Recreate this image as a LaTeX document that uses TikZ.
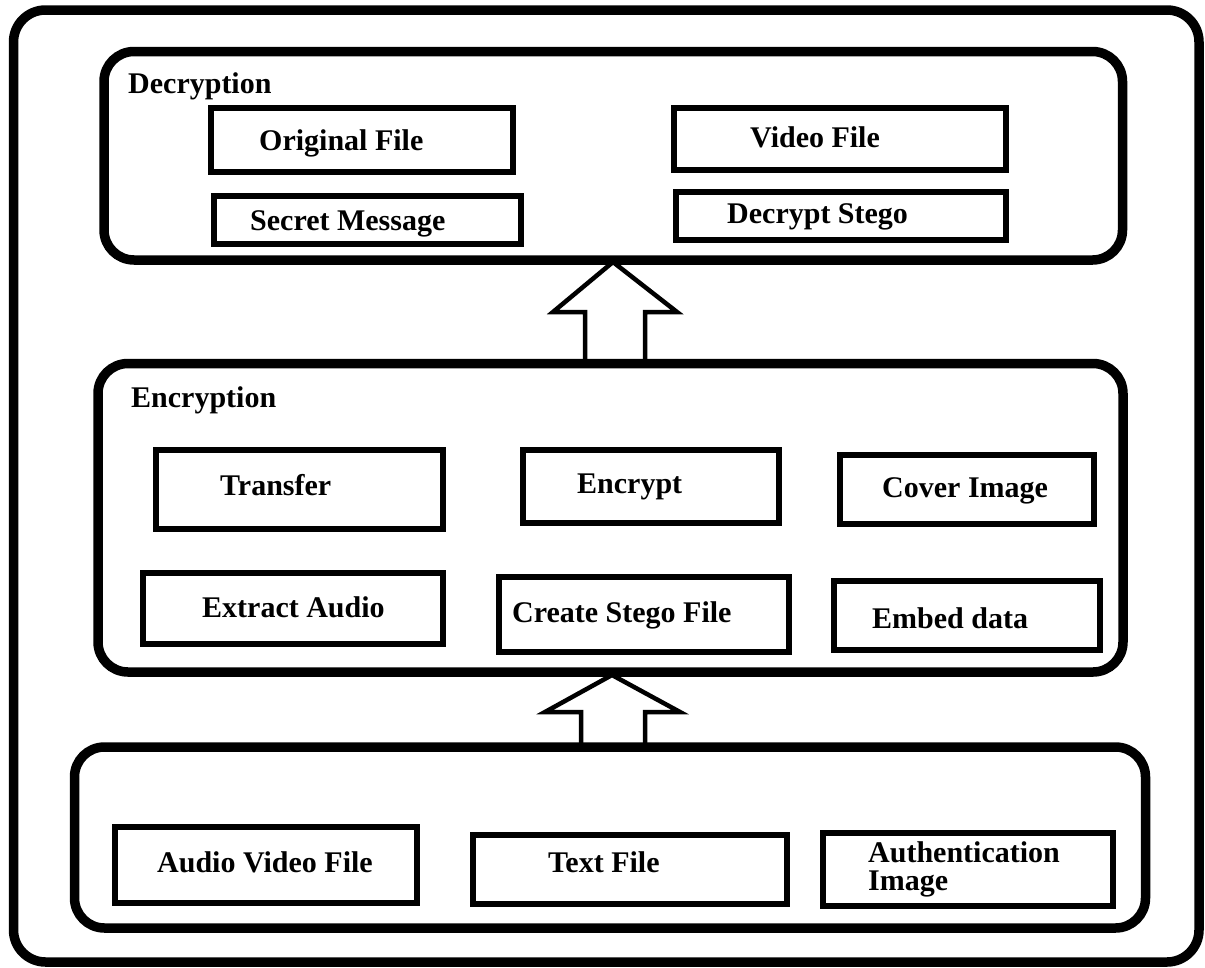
\documentclass[tikz,border=0pt]{standalone}
\usepackage{fontspec}
\setmainfont{Liberation Serif}
\usetikzlibrary{fit}
\tikzset{
  panel/.style={draw, line width=9.5pt, rounded corners=30pt, inner sep=0pt},
  boxn/.style={draw, line width=5.5pt, inner sep=0pt},
  txt/.style={anchor=base west, inner sep=0pt, font=\fontsize{30}{36}\selectfont\bfseries},
  blockarrow/.style={draw, line width=4.5pt, line join=miter}
}
\begin{document}
\begin{tikzpicture}[x=1pt,y=-1pt]
\useasboundingbox (0,0) rectangle (1205,967);
% outer frame
\node[panel, rounded corners=32pt, fit={(13.5,10)(1199,962)}] (outer) {};
% panels
\node[panel, fit={(104,51.5)(1122.5,260)}] (dec) {};
\node[panel, fit={(98,363.5)(1123,672)}] (enc) {};
\node[panel, fit={(74.5,747)(1145.5,928)}] (inp) {};
% decryption boxes
\node[boxn, fit={(211,108)(513,172)}] (orig) {};
\node[boxn, fit={(214,196)(521,244)}] (secret) {};
\node[boxn, fit={(674,108)(1006,170)}] (video) {};
\node[boxn, fit={(676,192)(1006,240)}] (dstego) {};
% encryption boxes
\node[boxn, fit={(156,450)(443,529)}] (transfer) {};
\node[boxn, fit={(523,450)(779,523)}] (encrypt) {};
\node[boxn, fit={(840,455)(1094,524)}] (cover) {};
\node[boxn, fit={(143,573)(443,644)}] (extract) {};
\node[boxn, fit={(499,577)(789,652)}] (create) {};
\node[boxn, fit={(834,581)(1100,650)}] (embed) {};
% input boxes
\node[boxn, fit={(115,827)(417,903)}] (avfile) {};
\node[boxn, fit={(473,835)(787,904)}] (textfile) {};
\node[boxn, fit={(823,833)(1113,906)}] (auth) {};
% texts
\node[txt] (tdec) at (128,93) {Decryption};
\node[txt] (torig) at (259,150) {Original File};
\node[txt] (tsecret) at (250,230) {Secret Message};
\node[txt] (tvideo) at (750,147) {Video File};
\node[txt] (tdstego) at (727,223) {Decrypt Stego};
\node[txt] (tenc) at (131,407) {Encryption};
\node[txt] (ttransfer) at (220,495) {Transfer};
\node[txt] (tencrypt) at (577,493) {Encrypt};
\node[txt] (tcover) at (882,497) {Cover Image};
\node[txt] (textract) at (202,617) {Extract Audio};
\node[txt] (tcreate) at (512,622) {Create Stego File};
\node[txt] (tembed) at (872,628) {Embed data};
\node[txt] (tav) at (157,872) {Audio Video File};
\node[txt] (ttext) at (548,872) {Text File};
\node[txt] (tauth1) at (868,862) {Authentication};
\node[txt] (tauth2) at (868,890) {Image};
% block arrows
\draw[blockarrow] (585,363.5) -- (585,312) -- (553,312) -- (613,262) -- (677,312) -- (645,312) -- (645,363.5);
\draw[blockarrow] (581,747) -- (581,712) -- (545,712) -- (612,675) -- (680,712) -- (645,712) -- (645,747);
\end{tikzpicture}
\end{document}
